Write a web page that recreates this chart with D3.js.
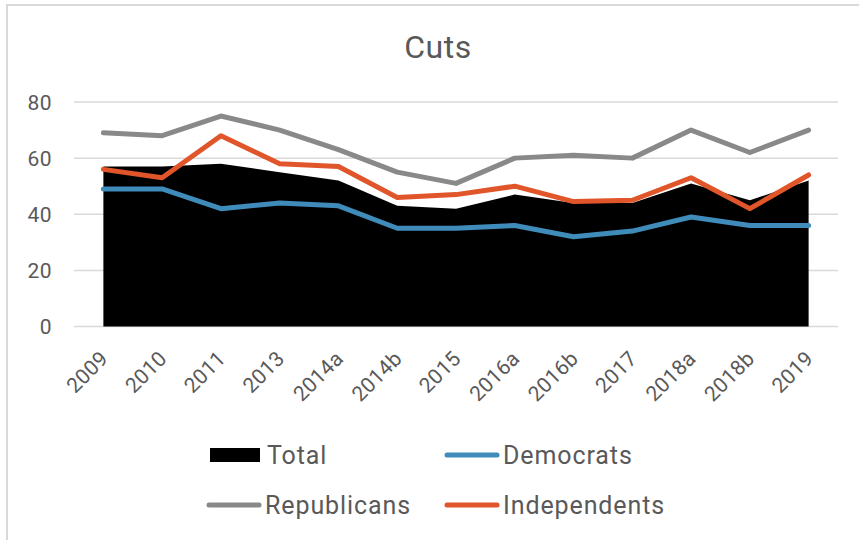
<!DOCTYPE html>
<html><head><meta charset="utf-8">
<script src="https://cdn.jsdelivr.net/npm/d3@7"></script>
<style>body{margin:0;background:#fff;} text{font-family:Roboto, "DejaVu Sans", sans-serif;fill:#595959;}</style>
</head><body>
<svg id="c" width="859" height="540"></svg>
<script>
const categories = ["2009","2010","2011","2013","2014a","2014b","2015","2016a","2016b","2017","2018a","2018b","2019"];
const total       = [57,57,58,55,52,43,42,47,44,44,51,45,52];
const democrats   = [49,49,42,44,43,35,35,36,32,34,39,36,36];
const republicans = [69,68,75,70,63,55,51,60,61,60,70,62,70];
const independents= [56,53,68,58,57,46,47,50,44.5,45,53,42,54];
const yTicks = [0,20,40,60,80];

(function(){
const svg = d3.select("#c");
const pL = 74, pR = 838, pT = 102, pB = 326.5;

// chart border (top & left)
svg.append("path").attr("d", `M7,540 L7,5 L859,5`).attr("fill","none").attr("stroke","#d9d9d9").attr("stroke-width",2);

const x = d3.scalePoint().domain(categories).range([pL, pR]).padding(0.5);
const y = d3.scaleLinear().domain([0,80]).range([pB, pT]);

// gridlines
svg.append("g").selectAll("line").data(yTicks).join("line")
  .attr("x1", pL).attr("x2", pR)
  .attr("y1", d=>y(d)).attr("y2", d=>y(d))
  .attr("stroke","#d9d9d9").attr("stroke-width",1.5);

// y labels
svg.append("g").selectAll("text").data(yTicks).join("text")
  .attr("x", 52).attr("y", d=>y(d)).attr("dy","0.36em")
  .attr("text-anchor","end").attr("font-size",21).attr("letter-spacing","0.5px").text(d=>d);

// area
const area = d3.area().x((d,i)=>x(categories[i])).y0(y(0)).y1(d=>y(d));
svg.append("path").datum(total).attr("d", area).attr("fill","#000");

const line = d3.line().x((d,i)=>x(categories[i])).y(d=>y(d));
const series = [
  {name:"Democrats", data:democrats, color:"#3f8cbb"},
  {name:"Republicans", data:republicans, color:"#898989"},
  {name:"Independents", data:independents, color:"#e0552a"}
];
series.forEach(s=>{
  svg.append("path").datum(s.data).attr("d", line).attr("fill","none")
    .attr("stroke", s.color).attr("stroke-width",5).attr("stroke-linejoin","round").attr("stroke-linecap","round");
});

// x labels
svg.append("g").selectAll("text").data(categories).join("text")
  .attr("text-anchor","end").attr("font-size",21).attr("letter-spacing","0.3px")
  .attr("transform", d=>`translate(${x(d)+6},${360}) rotate(-45)`)
  .text(d=>d);

// title
svg.append("text").attr("x", 438).attr("y", 58).attr("text-anchor","middle").attr("font-size",32).attr("letter-spacing","0.5px").text("Cuts");

// legend
const lg = svg.append("g");
lg.append("rect").attr("x",210).attr("y",448).attr("width",50).attr("height",14).attr("fill","#000");
lg.append("text").attr("x",267).attr("y",455).attr("dy","0.36em").attr("font-size",25).attr("letter-spacing","0.9px").text("Total");
const legItems = [
  {s:series[0], x:445, y:455},
  {s:series[1], x:207, y:505},
  {s:series[2], x:445, y:505}
];
legItems.forEach(l=>{
  lg.append("line").attr("x1",l.x+2).attr("x2",l.x+52).attr("y1",l.y).attr("y2",l.y)
    .attr("stroke",l.s.color).attr("stroke-width",5).attr("stroke-linecap","round");
  lg.append("text").attr("x",l.x+58).attr("y",l.y).attr("dy","0.36em").attr("font-size",25).attr("letter-spacing","0.9px").text(l.s.name);
});
})();
</script>
</body></html>
